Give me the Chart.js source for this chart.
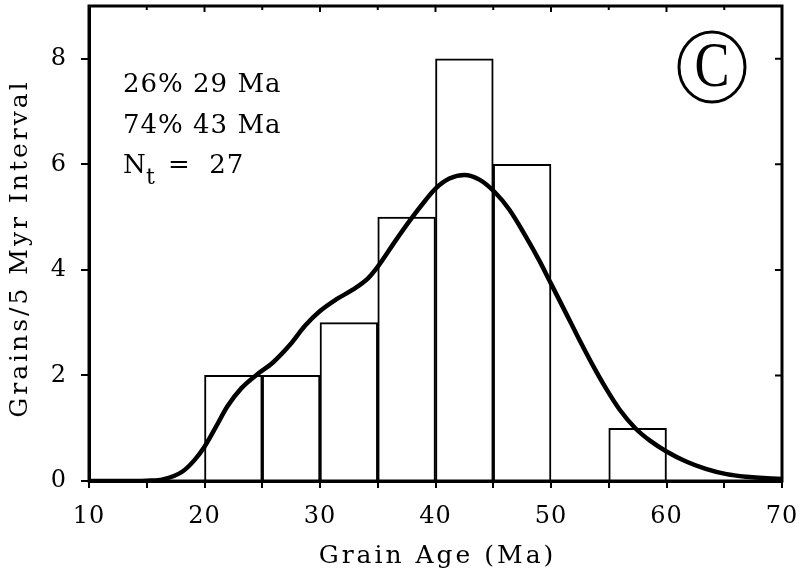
<!DOCTYPE html>
<html>
<head>
<meta charset="utf-8">
<script src="https://cdn.jsdelivr.net/npm/chart.js@4/dist/chart.umd.min.js"></script>
<style>
  html, body { margin: 0; padding: 0; background: #fff; }
  #wrap { width: 804px; height: 578px; position: relative; }
</style>
</head>
<body>
<div id="wrap"><canvas id="myChart"></canvas></div>
<script>
// histogram: 5 Myr bins
var binStarts = [20, 25, 30, 35, 40, 45, 50, 55];
var binCounts = [2, 2, 3, 5, 8, 6, 0, 1];

// fitted curve
var curveAges = [10, 12, 14, 15, 16.4, 18.1, 19.15, 20, 21, 22, 23.2, 24.5, 25.9, 27.4, 28.7, 30, 31.4, 32.8, 34.2, 35.1, 36.5, 37.9, 39.1, 40, 41.2, 42.5, 43.8, 45.1, 46.4, 47.8, 49, 50, 51.25, 52.4, 53.6, 54.8, 55.95, 57.3, 58.6, 60, 61.7, 63.4, 65.2, 66.9, 68.7, 70];
var curveGrains = [0, 0, 0, 0.005, 0.03, 0.18, 0.4, 0.65, 1.03, 1.42, 1.76, 2.01, 2.24, 2.58, 2.94, 3.22, 3.44, 3.62, 3.85, 4.09, 4.54, 4.97, 5.31, 5.54, 5.73, 5.8, 5.71, 5.48, 5.14, 4.64, 4.17, 3.74, 3.2, 2.7, 2.2, 1.74, 1.35, 1.0, 0.76, 0.56, 0.37, 0.23, 0.13, 0.08, 0.05, 0.04];

var xTicks = [10, 20, 30, 40, 50, 60, 70];
var yTicks = [0, 2, 4, 6, 8];
var xTitle = 'Grain Age (Ma)';
var yTitle = 'Grains/5 Myr Interval';
var notes = ['26% 29 Ma', '74% 43 Ma'];
var nTotal = 27;
var panelLetter = 'C';

var serif = '"DejaVu Serif", serif';

var barData = binStarts.map(function (s, i) {
    return { x: s + 2.5, y: binCounts[i] > 0 ? binCounts[i] : null };
});
var curveData = curveAges.map(function (a, i) {
    return { x: a, y: curveGrains[i] };
});

var spacing = {
    id: 'spacing',
    beforeUpdate: function (chart) { chart.ctx.letterSpacing = '1px'; },
    beforeDraw: function (chart) { chart.ctx.letterSpacing = '1px'; }
};

var frame = {
    id: 'frame',
    afterDatasetsDraw: function (chart) {
        var ctx = chart.ctx, a = chart.chartArea;
        var xs = chart.scales.x, ys = chart.scales.y;
        ctx.save();
        ctx.strokeStyle = '#000';
        ctx.lineWidth = 3;
        ctx.strokeRect(a.left, a.top, a.right - a.left, a.bottom - a.top);
        // inward ticks on top and right
        ctx.lineWidth = 2;
        ctx.beginPath();
        for (var v = 15; v < 70; v += 5) {
            var px = xs.getPixelForValue(v);
            ctx.moveTo(px, a.top);
            ctx.lineTo(px, a.top + (v % 10 === 0 ? 6 : 4));
        }
        yTicks.forEach(function (t) {
            if (t === 0) return;
            var py = ys.getPixelForValue(t);
            ctx.moveTo(a.right, py);
            ctx.lineTo(a.right - 7, py);
        });
        ctx.stroke();

        ctx.fillStyle = '#000';
        ctx.textAlign = 'center';
        ctx.textBaseline = 'middle';

        // axis titles
        ctx.font = '25px ' + serif;
        ctx.letterSpacing = '3px';
        ctx.fillText(xTitle, (a.left + a.right) / 2 + 2, 556);
        ctx.save();
        ctx.translate(20, (a.top + a.bottom) / 2 + 5);
        ctx.rotate(-Math.PI / 2);
        ctx.fillText(yTitle, 0, 0);
        ctx.restore();

        // text notes
        ctx.font = '26px ' + serif;
        ctx.letterSpacing = '1px';
        ctx.textBaseline = 'alphabetic';
        ctx.textAlign = 'left';
        var tx = a.left + 34;
        ctx.fillText(notes[0], tx, 92);
        ctx.fillText(notes[1], tx, 133);
        ctx.fillText('N', tx, 173);
        ctx.font = '22px ' + serif;
        ctx.fillText('t', tx + 23, 184);
        ctx.font = '26px ' + serif;
        ctx.fillText('=  ' + nTotal, tx + 45, 173);

        // panel letter in a circle
        var cx = 712, cy = 67;
        ctx.lineWidth = 3;
        ctx.beginPath();
        ctx.ellipse(cx, cy, 33, 35, 0, 0, Math.PI * 2);
        ctx.stroke();
        ctx.letterSpacing = '0px';
        ctx.font = '64px "Liberation Serif", serif';
        ctx.textAlign = 'center';
        ctx.textBaseline = 'middle';
        ctx.translate(cx, cy + 2);
        ctx.scale(0.82, 1);
        ctx.fillText(panelLetter, 0, 0);
        ctx.restore();
        ctx.letterSpacing = '1px';
    }
};

new Chart(document.getElementById('myChart').getContext('2d'), {
    data: {
        datasets: [{
            type: 'line',
            data: curveData,
            borderColor: '#000',
            borderWidth: 4.5,
            pointRadius: 0,
            cubicInterpolationMode: 'monotone',
            fill: false,
            order: 0
        }, {
            type: 'bar',
            data: barData,
            backgroundColor: '#fff',
            borderColor: '#000',
            borderWidth: 2,
            barPercentage: 1,
            categoryPercentage: 1,
            order: 1
        }]
    },
    options: {
        animation: false,
        responsive: true,
        maintainAspectRatio: false,
        layout: { padding: { left: 0, top: 6, right: 22, bottom: 0 } },
        plugins: { legend: { display: false }, tooltip: { enabled: false } },
        scales: {
            x: {
                type: 'linear',
                offset: false,
                min: 10,
                max: 70,
                afterFit: function (s) {
                    s.height = 97;
                    s.paddingLeft = 0;
                    s.paddingRight = 0;
                },
                border: { color: '#000', width: 3 },
                grid: { display: true, drawOnChartArea: false, drawTicks: true, tickLength: 7, color: '#000', lineWidth: 2, offset: false },
                ticks: {
                    stepSize: 5,
                    autoSkip: false,
                    maxRotation: 0,
                    padding: 14,
                    color: '#000',
                    font: { family: serif, size: 24 },
                    callback: function (v) { return xTicks.indexOf(v) >= 0 ? String(v) : ''; }
                },
                title: { display: false }
            },
            y: {
                type: 'linear',
                min: 0,
                max: 9,
                afterFit: function (s) {
                    s.width = 89;
                    s.paddingTop = 0;
                    s.paddingBottom = 0;
                },
                border: { color: '#000', width: 3 },
                grid: { display: true, drawOnChartArea: false, drawTicks: true, tickLength: 8, color: '#000', lineWidth: 2 },
                ticks: {
                    stepSize: 2,
                    includeBounds: false,
                    padding: 14,
                    color: '#000',
                    font: { family: serif, size: 24 }
                },
                title: { display: false }
            }
        }
    },
    plugins: [spacing, frame]
});
</script>
</body>
</html>
